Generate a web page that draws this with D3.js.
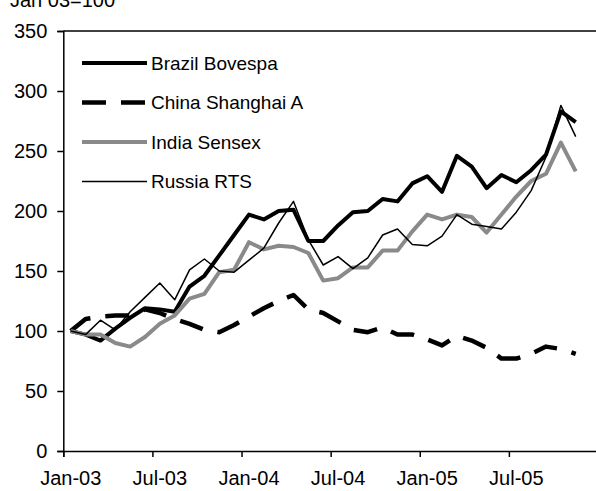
<!DOCTYPE html>
<html>
<head>
<meta charset="utf-8">
<script src="https://cdn.jsdelivr.net/npm/d3@7"></script>
<style>
  body { margin: 0; background: #fff; }
  text { font-family: "Liberation Sans", Arial, sans-serif; fill: #000; }
</style>
</head>
<body>
<div id="chart"></div>
<script>
// monthly index levels, Jan-03 = 100 (Jan-03 .. Nov-05)
const brazil = [100, 97, 92, 102, 111, 119, 118, 116, 137, 146, 163, 180, 197, 193, 200, 201, 175, 175, 188, 199, 200, 210, 208, 223, 229, 216, 246, 237, 219, 230, 224, 234, 247, 283, 274]
const china = [100, 110, 112, 113, 113, 118, 115, 110, 106, 101, 99, 105, 112, 119, 125, 130, 118, 115, 108, 101, 99, 103, 97, 97, 93, 88, 96, 92, 86, 77, 77, 81, 87, 85, 81]
const india = [100, 97, 97, 90, 87, 95, 106, 113, 127, 131, 149, 151, 174, 168, 171, 170, 165, 142, 144, 153, 153, 167, 167, 183, 197, 193, 197, 195, 182, 197, 212, 225, 231, 257, 233]
const russia = [100, 97, 109, 101, 116, 128, 140, 126, 151, 160, 150, 149, 159, 169, 190, 208, 176, 155, 162, 152, 161, 180, 185, 172, 171, 179, 197, 189, 187, 185, 199, 217, 245, 288, 262]

const seriesNames = ['Brazil Bovespa', 'China Shanghai A', 'India Sensex', 'Russia RTS']
const tickLabels = ['Jan-03', 'Jul-03', 'Jan-04', 'Jul-04', 'Jan-05', 'Jul-05']
const yTicks = [0, 50, 100, 150, 200, 250, 300, 350]
const slots = 36 // category slots on the axis

const width = 596
const height = 491
const margin = {top: 31, right: -2, bottom: 40, left: 63.3}

const svg = d3.select('#chart').append('svg')
    .attr('width', width)
    .attr('height', height)

const x = d3.scaleLinear()
    .domain([0, slots])
    .range([margin.left, width - margin.right])
const y = d3.scaleLinear()
    .domain([0, 350])
    .range([height - margin.bottom, margin.top])

const styles = [
    {color: '#000', width: 4, dash: null},
    {color: '#000', width: 4.5, dash: '24,15'},
    {color: '#8a8a8a', width: 4, dash: null},
    {color: '#000', width: 1.5, dash: null}
]
const series = [brazil, china, india, russia]

// title, mostly cut off at the top (as in the original)
svg.append('text')
    .attr('x', 10)
    .attr('y', 7)
    .style('font-size', '20px')
    .text('Jan 03=100')

// frame top line
svg.append('line')
    .attr('x1', x(0)).attr('x2', x(slots))
    .attr('y1', y(350)).attr('y2', y(350))
    .attr('stroke', '#000').attr('stroke-width', 1.5)

// y axis
const yAxis = svg.append('g')
    .attr('transform', `translate(${margin.left},0)`)
    .call(d3.axisLeft(y).tickValues(yTicks).tickSize(6).tickPadding(10))
yAxis.select('.domain').attr('stroke-width', 1.5)
yAxis.selectAll('.tick line').attr('stroke-width', 1.5)
yAxis.selectAll('.tick text')
    .style('font-size', '20px')
    .style('font-family', '"Liberation Sans", Arial, sans-serif')

// x axis: ticks on category boundaries, labels centred on the category
const xAxis = svg.append('g')
    .attr('transform', `translate(0,${y(0)})`)
    .call(d3.axisBottom(x).tickValues(d3.range(0, slots, 6)).tickSize(6).tickFormat(''))
xAxis.select('.domain').attr('stroke-width', 1.5)
xAxis.selectAll('.tick line').attr('stroke-width', 1.5)

svg.append('g').selectAll('text')
    .data(tickLabels)
    .join('text')
    .attr('x', (d, i) => x(i * 6 + 0.5))
    .attr('y', y(0) + 34)
    .attr('text-anchor', 'middle')
    .style('font-size', '20px')
    .text(d => d)

const line = d3.line()
    .x((d, i) => x(i + 0.5))
    .y(d => y(d))

svg.append('g').selectAll('path')
    .data(series)
    .join('path')
    .attr('d', d => line(d))
    .attr('fill', 'none')
    .attr('stroke', (d, i) => styles[i].color)
    .attr('stroke-width', (d, i) => styles[i].width)
    .attr('stroke-dasharray', (d, i) => styles[i].dash)
    .attr('stroke-linejoin', 'round')

// legend
const legend = svg.append('g').selectAll('g')
    .data(seriesNames)
    .join('g')
    .attr('transform', (d, i) => `translate(82,${63 + i * 39.5})`)
legend.append('line')
    .attr('x1', 0).attr('x2', 65)
    .attr('stroke', (d, i) => styles[i].color)
    .attr('stroke-width', (d, i) => styles[i].width)
    .attr('stroke-dasharray', (d, i) => styles[i].dash)
legend.append('text')
    .attr('x', 69)
    .attr('dy', '0.35em')
    .style('font-size', '19px')
    .text(d => d)
</script>
</body>
</html>
